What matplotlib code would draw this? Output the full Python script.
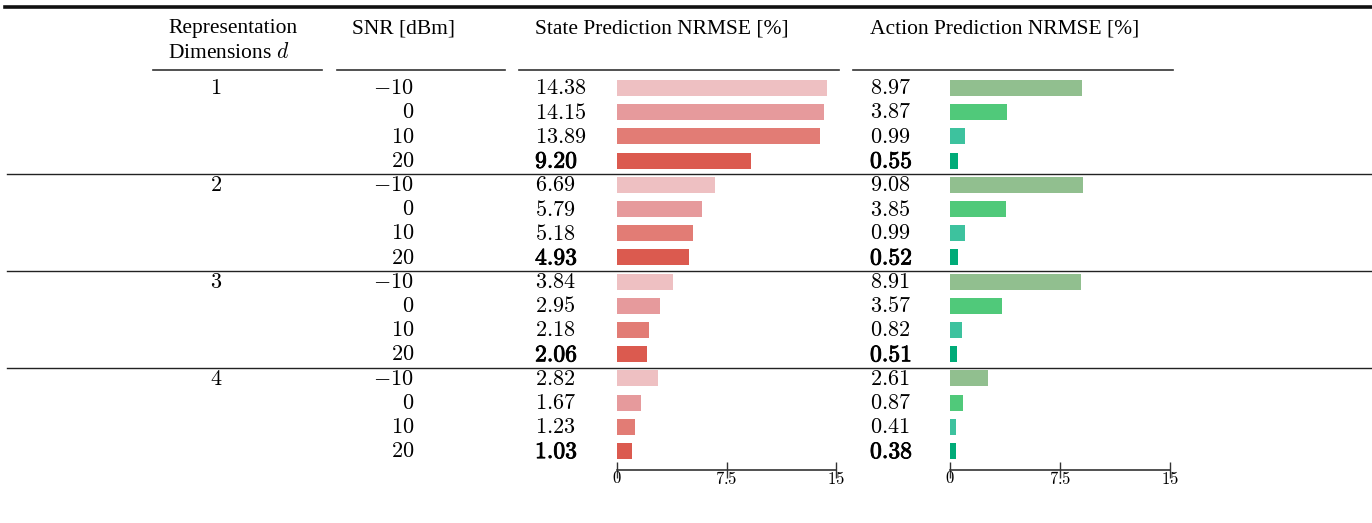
import matplotlib
matplotlib.use("Agg")
import matplotlib.pyplot as plt
import matplotlib.patheffects as pe
from matplotlib.lines import Line2D
from matplotlib.transforms import blended_transform_factory

plt.rcParams['font.family'] = ['Liberation Serif', 'DejaVu Serif']
plt.rcParams['mathtext.fontset'] = 'cm'

# table data
dims = [1, 2, 3, 4]
snr = [-10, 0, 10, 20]
state_nrmse = [[14.38, 14.15, 13.89, 9.20],
               [6.69, 5.79, 5.18, 4.93],
               [3.84, 2.95, 2.18, 2.06],
               [2.82, 1.67, 1.23, 1.03]]
action_nrmse = [[8.97, 3.87, 0.99, 0.55],
                [9.08, 3.85, 0.99, 0.52],
                [8.91, 3.57, 0.82, 0.51],
                [2.61, 0.87, 0.41, 0.38]]
state_colors = ['#EEC0C2', '#E69A9C', '#E27C75', '#DB5A4F']
action_colors = ['#91BF8F', '#50C97A', '#3DC29E', '#00AB78']
headers = ['Representation\nDimensions $d$', 'SNR [dBm]',
           'State Prediction NRMSE [%]', 'Action Prediction NRMSE [%]']

W, H = 1372, 523
fig = plt.figure(figsize=(W / 100, H / 100), dpi=100)

# pixel layout: first row centre at y=88, row pitch 24.2
top_px, pitch = 88, 24.2
y_bot = (470 - top_px) / pitch
y_top = (76 - top_px) / pitch


def bar_axes(x0, x1):
    ax = fig.add_axes([x0 / W, (H - 470) / H, (x1 - x0) / W, (470 - 76) / H])
    ax.set_xlim(0, 15)
    ax.set_ylim(y_bot, y_top)
    for s in ['top', 'left', 'right']:
        ax.spines[s].set_visible(False)
    ax.spines['bottom'].set_color('#333333')
    ax.spines['bottom'].set_linewidth(1.2)
    ax.set_yticks([])
    ax.set_xticks([0, 7.5, 15])
    ax.set_xticklabels(['$0$', '$7.5$', '$15$'])
    ax.tick_params(axis='x', direction='inout', length=12, width=1,
                   color='#333333', labelsize=12, pad=-5)
    ax.patch.set_alpha(0)
    return ax


ax_s = bar_axes(617, 836)
ax_a = bar_axes(950, 1170)

rows = []
for g in range(len(dims)):
    for i in range(len(snr)):
        rows.append((g, i, g * len(snr) + i))

for g, i, r in rows:
    ax_s.barh(r, state_nrmse[g][i], height=0.66, color=state_colors[i])
    ax_a.barh(r, action_nrmse[g][i], height=0.66, color=action_colors[i])

tr = blended_transform_factory(fig.transFigure, ax_s.transData)


def px_row(p):
    return (p - top_px) / pitch


fs = 16
dy = 0.07
bold = [pe.withStroke(linewidth=0.6, foreground='black')]
for g, i, r in rows:
    if i == 0:
        fig.text(216 / W, r + dy, f'${dims[g]}$', transform=tr, ha='center',
                 va='center', fontsize=fs)
    fig.text(414 / W, r + dy, f'${snr[i]}$', transform=tr, ha='right',
             va='center', fontsize=fs)
    for vals, xl in [(state_nrmse, 535), (action_nrmse, 870)]:
        v = vals[g][i]
        best = v == min(vals[g])
        t = fig.text(xl / W, r + dy, f'${v:.2f}$', transform=tr, ha='left',
                     va='center', fontsize=17 if best else fs)
        if best:
            t.set_path_effects(bold)

# header
hx = [168, 352, 535, 870]
for x, h in zip(hx, headers):
    fig.text(x / W, px_row(19), h, transform=tr, ha='left', va='top',
             fontsize=15.5, linespacing=1.3)

for x0, x1 in [(153, 322), (337, 505), (519, 839), (853, 1173)]:
    fig.add_artist(Line2D([x0 / W, x1 / W], [px_row(70)] * 2, transform=tr,
                          color='#333333', lw=1.2))
fig.add_artist(Line2D([5 / W, 1], [px_row(7)] * 2, transform=tr,
                      color='#111111', lw=2.6))
for g in range(1, len(dims)):
    y = g * len(snr) - 0.45
    fig.add_artist(Line2D([7 / W, 1], [y, y], transform=tr,
                          color='#222222', lw=1.0))

fig.savefig('out.png', dpi=100)
